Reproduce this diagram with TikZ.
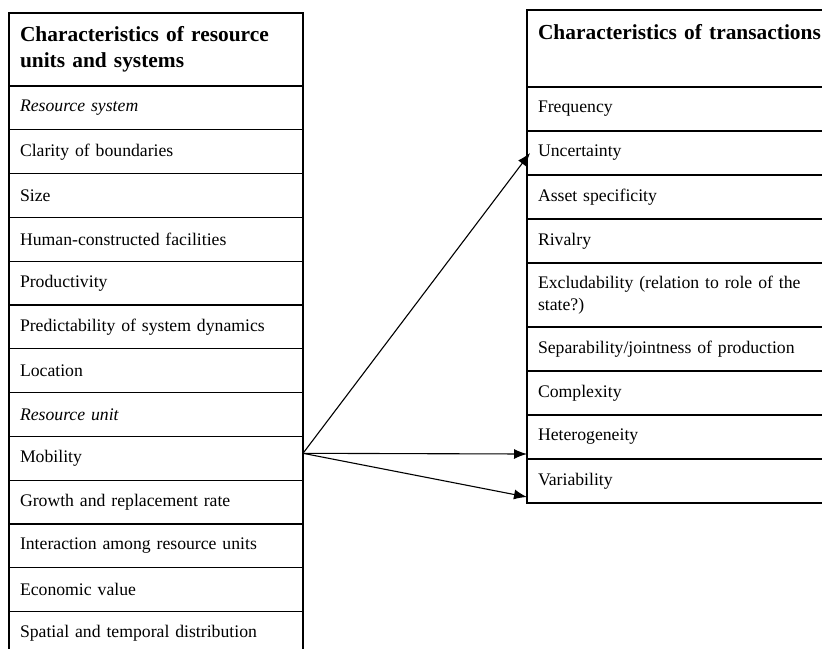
\documentclass[tikz,border=0pt]{standalone}
\usepackage{fontspec}
\setmainfont{Liberation Serif}
\usepackage{tikz}
\usetikzlibrary{arrows.meta,positioning,calc}

\tikzset{
    cell/.style={draw, line width=0.6pt, anchor=north west, outer sep=0pt, inner xsep=5.5pt, inner ysep=0pt,
        align=left, font=\fontsize{8.85}{11}\selectfont},
    leftcell/.style={cell, text width=136pt, minimum width=147pt, minimum height=21.9pt},
    rightcell/.style={cell, text width=145pt, minimum width=156pt, minimum height=22pt},
    headcell/.style={font=\fontsize{10.7}{13}\selectfont\bfseries},
    link/.style={line width=0.55pt, -{Latex[length=6.5pt,width=5pt]}}
}

\begin{document}
\begin{tikzpicture}[x=0.5pt, y=-0.5pt]
    \clip (0,0) rectangle (822,648);
    \fill[white] (0,0) rectangle (822,648);

    % Left table: resource units and systems
    \node[leftcell, headcell, minimum height=36.5pt] (lhead) at (9,13)
        {Characteristics of resource units and systems};
    \node[leftcell, below=0pt of lhead.south west, anchor=north west] (rsys) {\textit{Resource system}};
    \node[leftcell, below=0pt of rsys.south west, anchor=north west] (clar) {Clarity of boundaries};
    \node[leftcell, below=0pt of clar.south west, anchor=north west] (size) {Size};
    \node[leftcell, below=0pt of size.south west, anchor=north west] (human) {Human-constructed facilities};
    \node[leftcell, below=0pt of human.south west, anchor=north west] (prod) {Productivity};
    \node[leftcell, below=0pt of prod.south west, anchor=north west] (pred) {Predictability of system dynamics};
    \node[leftcell, below=0pt of pred.south west, anchor=north west] (loc) {Location};
    \node[leftcell, below=0pt of loc.south west, anchor=north west] (runit) {\textit{Resource unit}};
    \node[leftcell, below=0pt of runit.south west, anchor=north west] (mob) {Mobility};
    \node[leftcell, below=0pt of mob.south west, anchor=north west] (grow) {Growth and replacement rate};
    \node[leftcell, below=0pt of grow.south west, anchor=north west] (inter) {Interaction among resource units};
    \node[leftcell, below=0pt of inter.south west, anchor=north west] (econ) {Economic value};
    \node[leftcell, below=0pt of econ.south west, anchor=north west] (spat) {Spatial and temporal distribution};

    % Right table: transactions
    \node[rightcell, headcell, minimum height=38.5pt] (rhead) at (527,10)
        {Characteristics of transactions\\ \strut};
    \node[rightcell, below=0pt of rhead.south west, anchor=north west] (freq) {Frequency};
    \node[rightcell, below=0pt of freq.south west, anchor=north west] (unc) {Uncertainty};
    \node[rightcell, below=0pt of unc.south west, anchor=north west] (asset) {Asset specificity};
    \node[rightcell, below=0pt of asset.south west, anchor=north west] (riv) {Rivalry};
    \node[rightcell, below=0pt of riv.south west, anchor=north west, minimum height=32pt] (excl)
        {Excludability (relation to role of the state?)};
    \node[rightcell, below=0pt of excl.south west, anchor=north west] (sep) {Separability/jointness of production};
    \node[rightcell, below=0pt of sep.south west, anchor=north west] (comp) {Complexity};
    \node[rightcell, below=0pt of comp.south west, anchor=north west] (het) {Heterogeneity};
    \node[rightcell, below=0pt of het.south west, anchor=north west] (var) {Variability};

    % Links from mobility
    \coordinate (src) at ($(mob.east)+(0,-5)$);
    \coordinate (tounc) at ($(unc.west)+(3,0)$);
    \coordinate (tohet) at ($(het.south west)+(0,-5)$);
    \coordinate (tovar) at ($(var.south west)+(0,-6)$);
    \draw[link] (src) -- (tounc);
    \draw[link] (src) -- (tohet);
    \draw[link] (src) -- (tovar);
\end{tikzpicture}
\end{document}
